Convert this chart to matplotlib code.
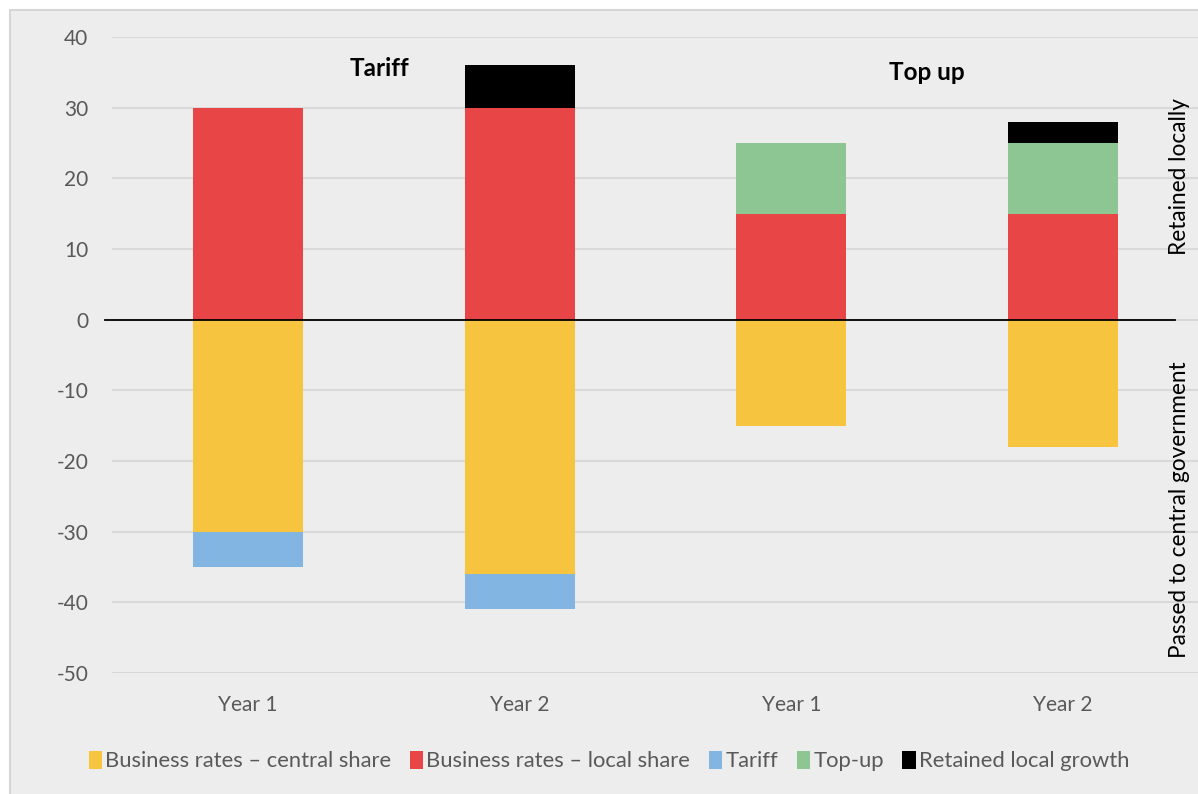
import matplotlib.pyplot as plt
import numpy as np
from matplotlib.patches import Rectangle

plt.rcParams["font.family"] = ["Lato", "DejaVu Sans"]
plt.rcParams["axes.unicode_minus"] = False

categories = ["Year 1", "Year 2", "Year 1", "Year 2"]
central_share = [-30, -36, -15, -18]
local_share = [30, 30, 15, 15]
tariff = [-5, -5, 0, 0]
top_up = [0, 0, 10, 10]
local_growth = [0, 6, 0, 3]

colors = {
    "central": "#F6C43F",
    "local": "#E84646",
    "tariff": "#83B5E3",
    "topup": "#8DC693",
    "growth": "#000000",
}
bg = "#EDEDED"

fig = plt.figure(figsize=(11.98, 7.94), dpi=100, facecolor="white")
fig.patches.append(Rectangle((10 / 1198, -0.1), 1.2, 0.1 + 784 / 794,
                             transform=fig.transFigure, facecolor=bg,
                             edgecolor="#D6D6D6", linewidth=1.5, zorder=-10))
ax = fig.add_axes([112 / 1198, 1 - 673 / 794, (1199 - 112) / 1198, (673 - 37) / 794])
ax.set_facecolor(bg)

x = np.arange(len(categories))
w = 0.405
central = np.array(central_share)
local = np.array(local_share)
tar = np.array(tariff)
top = np.array(top_up)
growth = np.array(local_growth)

ax.bar(x, central, w, color=colors["central"], label="Business rates \u2013 central share", zorder=3)
ax.bar(x, local, w, color=colors["local"], label="Business rates \u2013 local share", zorder=3)
ax.bar(x, tar, w, bottom=central, color=colors["tariff"], label="Tariff", zorder=3)
ax.bar(x, top, w, bottom=local, color=colors["topup"], label="Top-up", zorder=3)
ax.bar(x, growth, w, bottom=local + top, color=colors["growth"], label="Retained local growth", zorder=3)

ax.set_xlim(-0.5, 3.5)
ax.set_ylim(-50, 40)
ax.set_yticks(range(-50, 41, 10))
ax.set_xticks(x)
ax.set_xticklabels(categories)
ax.grid(axis="y", color="#D9D9D9", linewidth=1.5, zorder=0)
for s in ax.spines.values():
    s.set_visible(False)
ax.tick_params(length=0, labelsize=15, labelcolor="#595959", pad=17)
ax.tick_params(axis="x", pad=16)

# zero line, reaches a bit left of the plot area and stops before the side labels
ax.plot([-0.526, 3.412], [0, 0], color="black", linewidth=1.3, zorder=4, clip_on=False)

ax.text(0.486, 35.6, "Tariff", fontsize=17.5, fontweight="bold", ha="center", va="center")
ax.text(2.5, 35.0, "Top up", fontsize=17.5, fontweight="bold", ha="center", va="center")

fig.text(1180 / 1198, 1 - 177 / 794, "Retained locally", rotation=90, fontsize=16.3,
         ha="center", va="center", color="black")
fig.text(1180 / 1198, 1 - 510 / 794, "Passed to central government", rotation=90, fontsize=16.3,
         ha="center", va="center", color="black")

leg = fig.legend(loc="center", bbox_to_anchor=(609 / 1198, 1 - 761 / 794), ncol=5,
                 frameon=False, fontsize=15.8, handlelength=0.6, handleheight=0.9,
                 handletextpad=0.15, columnspacing=0.85)
for t in leg.get_texts():
    t.set_color("#595959")

fig.savefig("out.png", dpi=100, facecolor=fig.get_facecolor())
